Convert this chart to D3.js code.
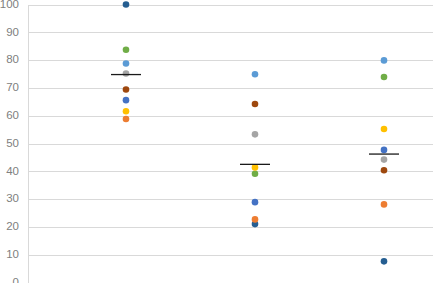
<!DOCTYPE html>
<html>
<head>
<meta charset="utf-8">
<script src="https://cdn.jsdelivr.net/npm/d3@7"></script>
<style>
  body { margin: 0; background: #fff; }
  svg { display: block; font-family: "Liberation Sans", Arial, sans-serif; }
</style>
</head>
<body>
<div id="graph"></div>
<script>
// Data
const categories = ['A', 'B', 'C'];
const seriesNames = ['S1', 'S2', 'S3', 'S4', 'S5', 'S6', 'S7', 'S8'];
const seriesColors = ['#255e91', '#70ad47', '#5b9bd5', '#a5a5a5', '#9e480e', '#4472c4', '#ffc000', '#ed7d31'];
// values per series, one per category
const seriesValues = [
  [100, 21.0, 7.6],
  [83.7, 39.1, 73.9],
  [78.8, 74.9, 79.9],
  [75.2, 53.3, 44.2],
  [69.4, 64.2, 40.4],
  [65.6, 28.9, 47.7],
  [61.6, 41.4, 55.2],
  [58.8, 22.7, 28.1]
];
const meanValues = [74.8, 42.5, 46.2];
const yTicks = [0, 10, 20, 30, 40, 50, 60, 70, 80, 90, 100];

const width = 433, height = 283;
const margin = { top: 4.5, left: 28, bottom: 0.5, right: 0 };

const svg = d3.select('#graph')
  .append('svg')
    .attr('width', width)
    .attr('height', height);

// Scales
const xScale = d3.scaleBand()
  .domain(categories)
  .range([61.5, 448.5]);

const yScale = d3.scaleLinear()
  .domain([0, 100])
  .range([height - margin.bottom, margin.top]);

// Gridlines
svg.append('g')
  .selectAll('line')
  .data(yTicks)
  .join('line')
    .attr('x1', margin.left)
    .attr('x2', width)
    .attr('y1', (d) => Math.round(yScale(d)) + 0.5)
    .attr('y2', (d) => Math.round(yScale(d)) + 0.5)
    .attr('stroke', '#d9d9d9')
    .attr('stroke-width', 1);

// Y axis
const yAxis = svg.append('g')
  .attr('transform', `translate(${margin.left},0)`)
  .call(d3.axisLeft(yScale).tickValues(yTicks).tickSize(0).tickPadding(9));
yAxis.select('.domain').attr('stroke', '#d9d9d9');
yAxis.selectAll('text')
  .attr('fill', '#808080')
  .attr('dy', '0.25em')
  .style('font-size', '11.5px');

// Points
const points = [];
seriesValues.forEach((vals, s) => {
  vals.forEach((v, c) => points.push({ cat: categories[c], value: v, color: seriesColors[s] }));
});

svg.append('g')
  .selectAll('circle')
  .data(points)
  .join('circle')
    .attr('cx', (d) => xScale(d.cat) + xScale.bandwidth() / 2)
    .attr('cy', (d) => yScale(d.value))
    .attr('r', 3.3)
    .attr('fill', (d) => d.color);

// Mean markers
svg.append('g')
  .selectAll('line')
  .data(meanValues)
  .join('line')
    .attr('x1', (d, i) => xScale(categories[i]) + xScale.bandwidth() / 2 - 15)
    .attr('x2', (d, i) => xScale(categories[i]) + xScale.bandwidth() / 2 + 15)
    .attr('y1', (d) => yScale(d))
    .attr('y2', (d) => yScale(d))
    .attr('stroke', '#1a1a1a')
    .attr('stroke-width', 1.3);
</script>
</body>
</html>
